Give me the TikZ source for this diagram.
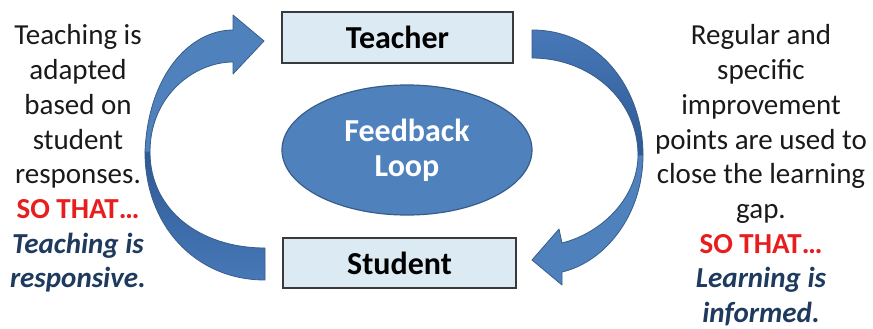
\documentclass[tikz,border=0pt]{standalone}
\usepackage{fontspec}
\setmainfont{Carlito}
\usetikzlibrary{shapes.geometric}
\definecolor{boxfill}{HTML}{DCEAF4}
\definecolor{boxline}{HTML}{3A3A3A}
\definecolor{accblue}{HTML}{4F81BD}
\definecolor{accdark}{HTML}{385D8A}
\definecolor{backdeep}{HTML}{2E5A95}
\definecolor{backlight}{HTML}{4878B8}
\definecolor{sored}{HTML}{E81E1E}
\definecolor{navy}{HTML}{1F3A5F}
\definecolor{bodytext}{HTML}{1A1A1A}
\begin{document}
\begin{tikzpicture}[x=1pt,y=-1pt,
  rolebox/.style={draw=boxline, line width=1.3pt, fill=boxfill, minimum width=231pt, minimum height=51pt, inner sep=0pt, font=\fontsize{32}{35}\selectfont\bfseries, text=black, text height=22pt, text depth=0pt},
  loopnode/.style={ellipse, draw=accdark, line width=1.2pt, fill=accblue, minimum width=250pt, minimum height=130pt, inner sep=0pt, text=white, font=\fontsize{32}{35}\selectfont\bfseries, align=center},
  sidetext/.style={anchor=base, inner sep=0pt, text=bodytext, font=\fontsize{29}{34.7}\selectfont},
  arrowfront/.style={fill=accblue, draw=accdark, line width=0.8pt, line join=round},
  arrowback/.style={top color=backdeep, bottom color=backlight, draw=accdark, line width=0.8pt, line join=round},
  arrowbacktwo/.style={top color=backlight, bottom color=backdeep, draw=accdark, line width=0.8pt, line join=round}
]
\useasboundingbox (0,0) rectangle (873,329);
\fill[white] (0,0) rectangle (873,329);

% boxes and ellipse
\node[rolebox] (teacher) at (397.5,37.5) {Teacher};
\node[rolebox, minimum width=233pt, minimum height=50pt] (student) at (399.5,263) {Student};
\node[loopnode] (loop) at (407,150) {Feedback\\Loop};

% left curved arrow (student -> teacher)
\path[arrowback] (265,248) -- (265,280) .. controls (195,280) and (145,225) .. (145,152)
  -- (150,152) .. controls (150,210) and (200,248) .. (265,248) -- cycle;
\path[arrowfront] (145,152) .. controls (148,75) and (190,30) .. (233,30) -- (233,15) -- (264,41)
  -- (233,74) -- (233,62) .. controls (195,62) and (150,95) .. (150,152) -- cycle;

% right curved arrow (teacher -> student)
\path[arrowbacktwo] (532,30) .. controls (600,30) and (643,90) .. (643,155)
  -- (638,155) .. controls (638,100) and (590,58) .. (532,58) -- cycle;
\path[arrowfront] (643,155) .. controls (643,215) and (605,262) .. (562,272) -- (562,285) -- (532,260)
  -- (559,229) -- (562,243) .. controls (605,232) and (638,195) .. (638,155) -- cycle;

% side texts
\node[sidetext] (lefttext) at (78,45) {\begin{tabular}[t]{@{}c@{}}Teaching is\\adapted\\based on\\student\\responses.\\{\color{sored}\bfseries SO THAT…}\\{\color{navy}\bfseries\itshape Teaching is}\\{\color{navy}\bfseries\itshape responsive.}\end{tabular}};
\node[sidetext] (righttext) at (761,45) {\begin{tabular}[t]{@{}c@{}}Regular and\\specific\\improvement\\points are used to\\close the learning\\gap.\\{\color{sored}\bfseries SO THAT…}\\{\color{navy}\bfseries\itshape Learning is}\\{\color{navy}\bfseries\itshape informed.}\end{tabular}};
\end{tikzpicture}
\end{document}
